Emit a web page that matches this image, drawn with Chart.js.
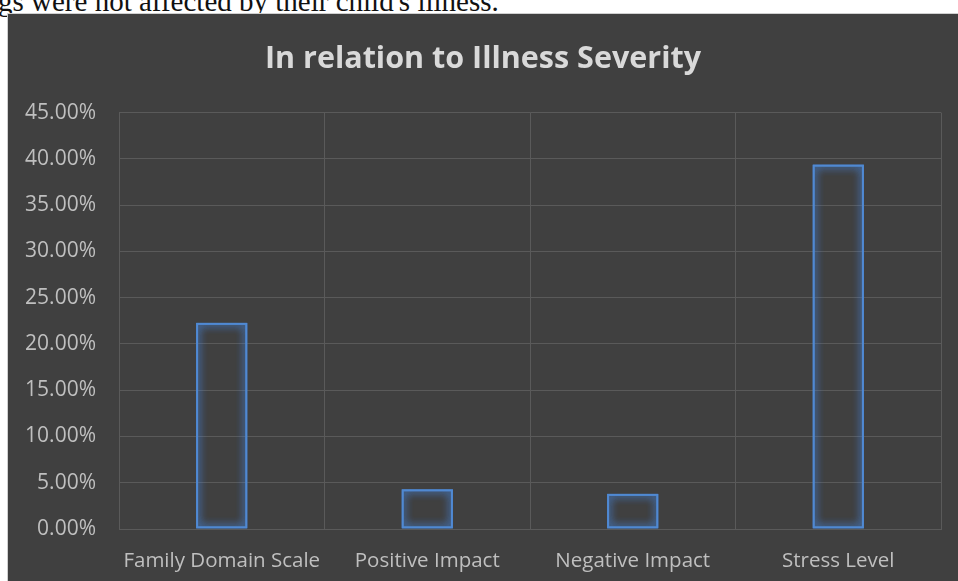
<!DOCTYPE html>
<html>
<head>
<meta charset="utf-8">
<script src="https://cdn.jsdelivr.net/npm/chart.js@4"></script>
<style>
  html, body { margin: 0; padding: 0; background: #ffffff; overflow: hidden; }
  body { width: 958px; height: 581px; position: relative; }
  #doc-line {
    position: absolute; left: -2px; top: -15px;
    font-family: "Liberation Serif", serif; font-size: 29px; color: #111;
    white-space: nowrap;
  }
  #chart-box {
    position: absolute; left: 7px; top: 13px; width: 951px; height: 568px;
    background: #404040; border-left: 1px solid #d0d0d0; border-top: 1px solid #d0d0d0;
    box-sizing: border-box;
  }
</style>
</head>
<body>
<div id="doc-line">gs were not affected by their child's illness.</div>
<div id="chart-box"><canvas id="barChart-severity"></canvas></div>
<script>
/* categories and values (%) */
const categories = ["Family Domain Scale", "Positive Impact", "Negative Impact", "Stress Level"];
const severityValues = [22.3, 4.3, 3.8, 39.4];
const yTicks = [0, 5, 10, 15, 20, 25, 30, 35, 40, 45];

/* glow around the bar outlines: bars drawn with a blue shadow, twice for a stronger halo */
const glowPlugin = {
    id: "glow",
    beforeDatasetsDraw(chart) {
        const ctx = chart.ctx;
        ctx.save();
        ctx.shadowColor = "rgba(70,135,225,1)";
        ctx.shadowBlur = 9;
    },
    afterDatasetsDraw(chart) {
        const ctx = chart.ctx;
        chart.getDatasetMeta(0).data.forEach(bar => bar.draw(ctx));
        ctx.restore();
    },
};

const dataSeverity = {
    labels: categories,
    datasets: [
        {
            label: "In relation to Illness Severity",
            data: severityValues,
            backgroundColor: "rgba(0,0,0,0)",
            borderColor: "#5089d2",
            borderWidth: 2,
            borderSkipped: false,
            categoryPercentage: 1,
            barPercentage: 0.25,
        },
    ],
};

const ctxSeverity = document.getElementById("barChart-severity").getContext("2d");
const barChartSeverity = new Chart(ctxSeverity, {
    type: "bar",
    data: dataSeverity,
    plugins: [glowPlugin],
    options: {
        responsive: true,
        maintainAspectRatio: false,
        animation: false,
        layout: { padding: { left: 17, right: 17, top: 0, bottom: 7 } },
        plugins: {
            legend: { display: false },
            tooltip: { enabled: false },
            title: {
                display: true,
                text: "In relation to Illness Severity",
                color: "#d9d9d9",
                font: { family: "'Open Sans'", size: 30.5, weight: "bold" },
                padding: { top: 27, bottom: 35 },
            },
        },
        scales: {
            x: {
                grid: { color: "#5a5a5a", drawTicks: false, offset: true },
                border: { color: "#5a5a5a" },
                ticks: {
                    color: "#bfbfbf",
                    font: { family: "'Open Sans'", size: 20.5 },
                    padding: 20,
                    maxRotation: 0,
                    minRotation: 0,
                    autoSkip: false,
                },
                afterFit(axis) {
                    axis.height = 45; // label + padding only once
                },
            },
            y: {
                min: 0,
                max: 45,
                afterBuildTicks(axis) {
                    axis.ticks = yTicks.map(v => ({ value: v }));
                },
                afterFit(axis) {
                    axis.width = 94;
                },
                grid: { color: "#5a5a5a", drawTicks: false },
                border: { color: "#5a5a5a" },
                ticks: {
                    color: "#bfbfbf",
                    font: { family: "'Open Sans'", size: 21 },
                    padding: 23,
                    callback: v => v.toFixed(2) + "%",
                },
            },
        },
    },
});
</script>
</body>
</html>
